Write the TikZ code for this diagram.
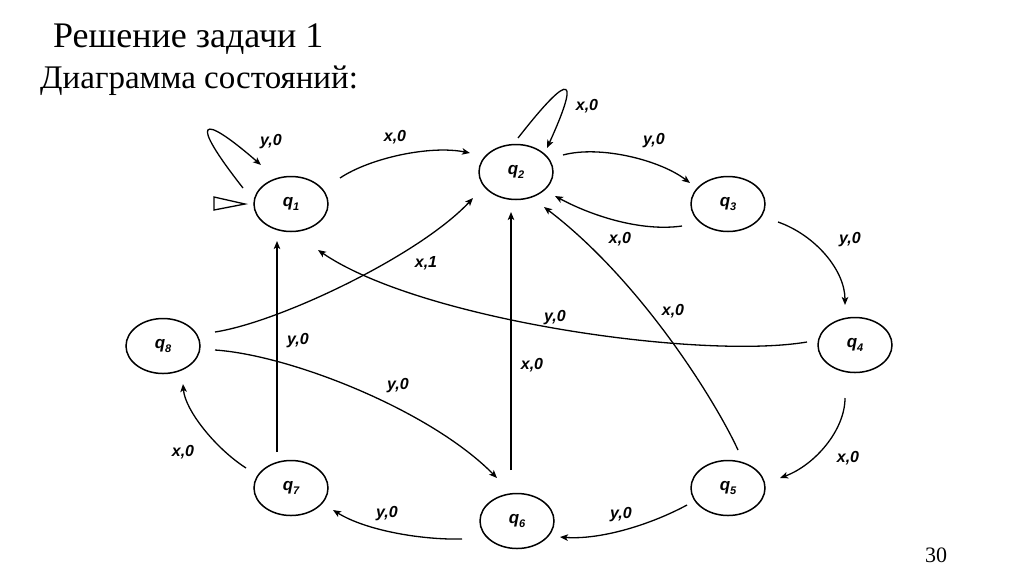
\documentclass[tikz,border=0pt]{standalone}
\usepackage{fontspec}
\setmainfont{Liberation Serif}
\setsansfont{Liberation Sans}
\usetikzlibrary{arrows.meta,shapes.geometric,calc}
\newcommand\qsub[1]{q\raisebox{-3.5pt}{\fontsize{11}{11}\selectfont #1}}
\begin{document}
\begin{tikzpicture}[x=1pt,y=-1pt,
  st/.style={draw, ellipse, line width=1.5pt, minimum width=74pt, minimum height=55pt, inner sep=0pt,
    font=\sffamily\bfseries\itshape\fontsize{17}{17}\selectfont},
  lbl/.style={font=\sffamily\bfseries\itshape\fontsize{16}{16}\selectfont, inner sep=0pt},
  tr/.style={draw, line width=1.3pt, -{Stealth[length=8pt,width=6.5pt,inset=2pt]}},
  ttl/.style={anchor=base west, inner sep=0pt},
]
\fill[white] (0,0) rectangle (1024,574);
\useasboundingbox (0,0) rectangle (1024,574);

\node[ttl, font=\fontsize{36}{36}\selectfont] (t1) at (53,47) {Решение задачи 1};
\node[ttl, font=\fontsize{33}{33}\selectfont] (t2) at (40,88) {Диаграмма состояний:};
\node[inner sep=0pt, font=\fontsize{22}{22}\selectfont] (pg) at (936,555) {30};

\node[st] (q1) at (291,204) {\qsub{1}};
\node[st] (q2) at (516,172) {\qsub{2}};
\node[st] (q3) at (728,204) {\qsub{3}};
\node[st] (q4) at (855,345) {\qsub{4}};
\node[st] (q5) at (728,488) {\qsub{5}};
\node[st] (q6) at (517,521) {\qsub{6}};
\node[st] (q7) at (291,488) {\qsub{7}};
\node[st] (q8) at (163,346) {\qsub{8}};

% initial marker
\draw[line width=1.3pt, line join=miter] ($(q1)+(-77,-7)$) -- ($(q1)+(-46,0)$) -- ($(q1)+(-77,6)$) -- cycle;

% self loops
\draw[tr] ($(q1)+(-48,-16)$) .. controls (188,118) and (200,112) .. ($(q1)+(-30,-39)$);
\draw[tr] ($(q2)+(2,-34)$) .. controls (575,65) and (578,80) .. ($(q2)+(31,-24)$);

% transitions
\draw[tr] ($(q1)+(49,-26)$) .. controls (370,158) and (430,145) .. ($(q2)+(-46,-19)$);
\draw[tr] ($(q2)+(47,-17)$) .. controls (600,145) and (660,160) .. ($(q3)+(-38,-21)$);
\draw[tr] ($(q3)+(-46,22)$) .. controls (640,232) and (590,215) .. ($(q2)+(39,24)$);
\draw[tr] ($(q3)+(50,18)$) .. controls (815,235) and (845,270) .. ($(q4)+(-10,-40)$);
\draw[tr] ($(q4)+(-48,-3)$) .. controls (700,360) and (420,320) .. ($(q1)+(27,46)$);
\draw[tr] ($(q4)+(-10,53)$) .. controls (845,430) and (815,465) .. ($(q5)+(52,-10)$);
\draw[tr] ($(q5)+(-41,17)$) .. controls (650,525) and (600,540) .. ($(q6)+(43,16)$);
\draw[tr] ($(q6)+(-55,18)$) .. controls (420,540) and (365,530) .. ($(q7)+(42,22)$);
\draw[tr] ($(q7)+(-45,-20)$) .. controls (215,448) and (185,410) .. ($(q8)+(20,38)$);
\draw[tr] ($(q7)+(-14,-36)$) -- ($(q1)+(-14,37)$);
\draw[tr] ($(q8)+(52,-14)$) .. controls (280,322) and (420,255) .. ($(q2)+(-43,26)$);
\draw[tr] ($(q8)+(52,4)$) .. controls (290,355) and (430,410) .. ($(q6)+(-20,-43)$);
\draw[tr] ($(q6)+(-6,-51)$) -- ($(q2)+(-5,40)$);
\draw[tr] ($(q5)+(10,-38)$) .. controls (715,400) and (640,280) .. ($(q2)+(28,35)$);

% labels
\node[lbl] (l1) at (271,142) {y,0};
\node[lbl] (l2) at (395,137) {x,0};
\node[lbl] (l3) at (587,106) {x,0};
\node[lbl] (l4) at (654,141) {y,0};
\node[lbl] (l5) at (620,239) {x,0};
\node[lbl] (l6) at (850,240) {y,0};
\node[lbl] (l7) at (555,318) {y,0};
\node[lbl] (l8) at (848,458) {x,0};
\node[lbl] (l9) at (621,515) {y,0};
\node[lbl] (l10) at (387,514) {y,0};
\node[lbl] (l11) at (183,452) {x,0};
\node[lbl] (l12) at (298,341) {y,0};
\node[lbl] (l13) at (426,263) {x,1};
\node[lbl] (l14) at (398,386) {y,0};
\node[lbl] (l15) at (532,365) {x,0};
\node[lbl] (l16) at (673,311) {x,0};
\end{tikzpicture}
\end{document}
